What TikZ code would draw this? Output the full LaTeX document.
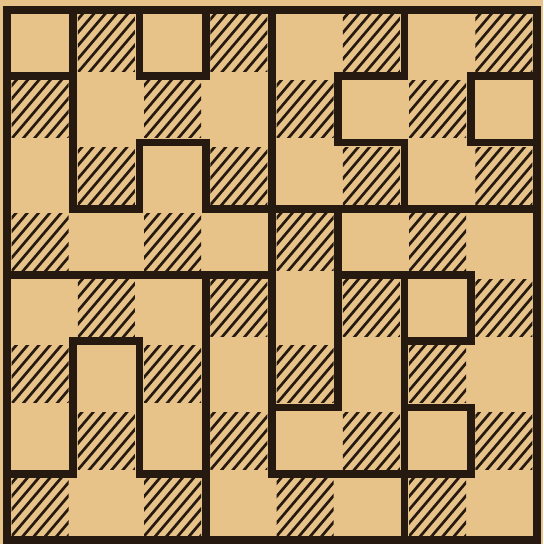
\documentclass[tikz,border=0pt]{standalone}
\usepackage{tikz}

\definecolor{paper}{RGB}{231,195,137}
\definecolor{ink}{RGB}{38,26,16}

\begin{document}
\begin{tikzpicture}[
    x=2cm, y=-2cm,
    hatch/.style = {draw=ink, line width=2.3pt},
    cut/.style   = {draw=ink, line width=6.8pt, line cap=rect, line join=miter},
    rim/.style   = {draw=ink, line width=7.5pt},
]

% paper and frame of the picture
\fill[paper] (-0.106,-0.151) rectangle (8.091,8.06);
\useasboundingbox (-0.106,-0.151) rectangle (8.091,8.06);

% hatched squares of the board
\foreach \c in {0,...,7} {
  \foreach \r in {0,...,7} {
    \pgfmathtruncatemacro{\odd}{mod(\c+\r,2)}
    \ifnum\odd=1
      \begin{scope}
        \clip (\c+0.07,\r+0.07) rectangle (\c+0.93,\r+0.93);
        \foreach \t in {-1,-0.83,...,1.1}
          \draw[hatch] (\c+\t,\r+1) -- (\c+\t+0.85,\r);
      \end{scope}
    \fi
  }
}

% cuts between the pieces
\draw[cut] (0,1) -- (1,1);
\draw[cut] (1,0) -- (1,3) -- (2,3) -- (2,2) -- (3,2) -- (3,3) -- (8,3);
\draw[cut] (2,0) -- (2,1) -- (3,1) -- (3,0);
\draw[cut] (4,0) -- (4,7) -- (7,7) -- (7,6) -- (6,6);
\draw[cut] (6,0) -- (6,1) -- (5,1) -- (5,2) -- (6,2) -- (6,3);
\draw[cut] (8,1) -- (7,1) -- (7,2) -- (8,2);
\draw[cut] (0,4) -- (4,4);
\draw[cut] (5,3) -- (5,6) -- (4,6);
\draw[cut] (5,4) -- (7,4) -- (7,5) -- (6,5);
\draw[cut] (6,4) -- (6,8);
\draw[cut] (3,4) -- (3,8);
\draw[cut] (0,7) -- (1,7) -- (1,5) -- (2,5) -- (2,7) -- (3,7);

% outer edge of the board
\draw[rim] (0,0) rectangle (8,8);

\end{tikzpicture}
\end{document}
